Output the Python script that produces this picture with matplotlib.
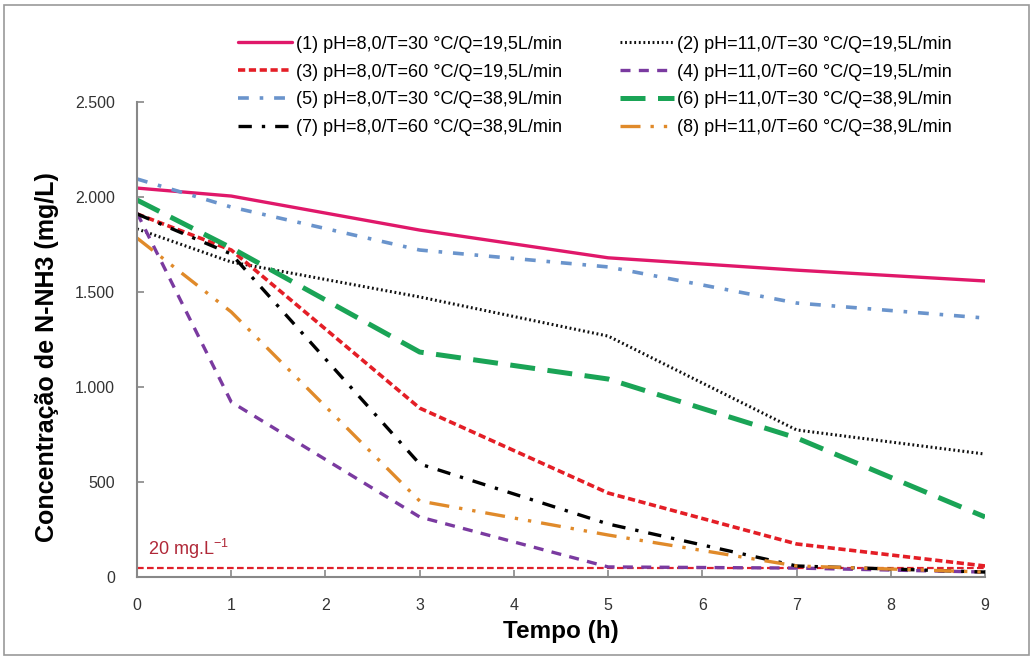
import matplotlib
matplotlib.use('Agg')
import matplotlib.pyplot as plt
from matplotlib.ticker import FuncFormatter
from matplotlib.patches import Rectangle

plt.rcParams['font.family'] = ['Liberation Sans', 'DejaVu Sans']

tempo = [0, 1, 3, 5, 7, 9]
s1 = [2047, 2005, 1826, 1680, 1615, 1558]
s2 = [1832, 1658, 1474, 1268, 774, 647]
s3 = [1911, 1721, 889, 442, 174, 58]
s4 = [1916, 921, 316, 53, 47, 26]
s5 = [2095, 1947, 1721, 1632, 1442, 1363]
s6 = [1984, 1732, 1184, 1042, 732, 316]
s7 = [1911, 1700, 595, 279, 58, 26]
s8 = [1784, 1395, 400, 221, 58, 26]
limite = 45

labels = ['(1) pH=8,0/T=30 °C/Q=19,5L/min',
          '(2) pH=11,0/T=30 °C/Q=19,5L/min',
          '(3) pH=8,0/T=60 °C/Q=19,5L/min',
          '(4) pH=11,0/T=60 °C/Q=19,5L/min',
          '(5) pH=8,0/T=30 °C/Q=38,9L/min',
          '(6) pH=11,0/T=30 °C/Q=38,9L/min',
          '(7) pH=8,0/T=60 °C/Q=38,9L/min',
          '(8) pH=11,0/T=60 °C/Q=38,9L/min']

fig = plt.figure(figsize=(10.35, 6.62), dpi=100)
ax = fig.add_axes([0.1324, 0.1284, 0.8193, 0.7175])

# linha do limite de 20 mg/L
ax.axhline(limite, color='#e0202a', lw=1.6, dashes=(3, 1.5), zorder=1)
ax.text(0.12, 115, r'20 mg.L$^{\mathregular{-1}}$', color='#b02838', fontsize=13)

h = {}
h[1], = ax.plot(tempo, s1, color='#e0186a', lw=2.4, solid_capstyle='round')
h[2], = ax.plot(tempo, s2, color='#111111', lw=2.2, dashes=(0.6, 0.9))
h[3], = ax.plot(tempo, s3, color='#e41e26', lw=2.6, dashes=(2, 1))
h[4], = ax.plot(tempo, s4, color='#7a3aa0', lw=2.4, dashes=(3, 2.5))
h[5], = ax.plot(tempo, s5, color='#6a94cc', lw=2.6, dashes=(3, 3, 1, 3))
h[6], = ax.plot(tempo, s6, color='#1aa456', lw=3.6, dashes=(5, 2.5))
h[7], = ax.plot(tempo, s7, color='#000000', lw=2.4, dashes=(4, 3, 1, 3))
h[8], = ax.plot(tempo, s8, color='#e08a2a', lw=2.4, dashes=(6, 3, 1, 3, 1, 3))

ax.set_xlim(0, 9)
ax.set_ylim(0, 2500)
ax.set_xticks(range(0, 10))
ax.set_yticks([0, 500, 1000, 1500, 2000, 2500])
ax.yaxis.set_major_formatter(FuncFormatter(lambda v, p: f'{int(v):,}'.replace(',', '.')))
ax.tick_params(labelsize=11.5, labelcolor='#333333', color='#888888',
               direction='in', length=5, width=1.2)
ax.tick_params(axis='y', pad=16)
ax.tick_params(axis='x', pad=15)
for side in ['top', 'right']:
    ax.spines[side].set_visible(False)
for side in ['left', 'bottom']:
    ax.spines[side].set_color('#888888')
    ax.spines[side].set_linewidth(1.5)

ax.set_xlabel('Tempo (h)', fontsize=17.5, fontweight='bold', labelpad=5)
ax.set_ylabel('Concentração de N-NH3 (mg/L)', fontsize=18, fontweight='bold')
ax.yaxis.set_label_coords(-0.092, 0.463)

order = [1, 3, 5, 7, 2, 4, 6, 8]
fig.legend([h[i] for i in order], [labels[i - 1] for i in order],
           ncol=2, loc='upper left', bbox_to_anchor=(0.223, 0.957), frameon=False,
           fontsize=13, handlelength=3.0, handletextpad=0.2, columnspacing=3.2,
           labelspacing=0.6, borderaxespad=0)

fig.add_artist(Rectangle((0.004, 0.01), 0.99, 0.983, transform=fig.transFigure,
                         fill=False, edgecolor='#999999', lw=1.2))

fig.savefig('out.png', dpi=100)
